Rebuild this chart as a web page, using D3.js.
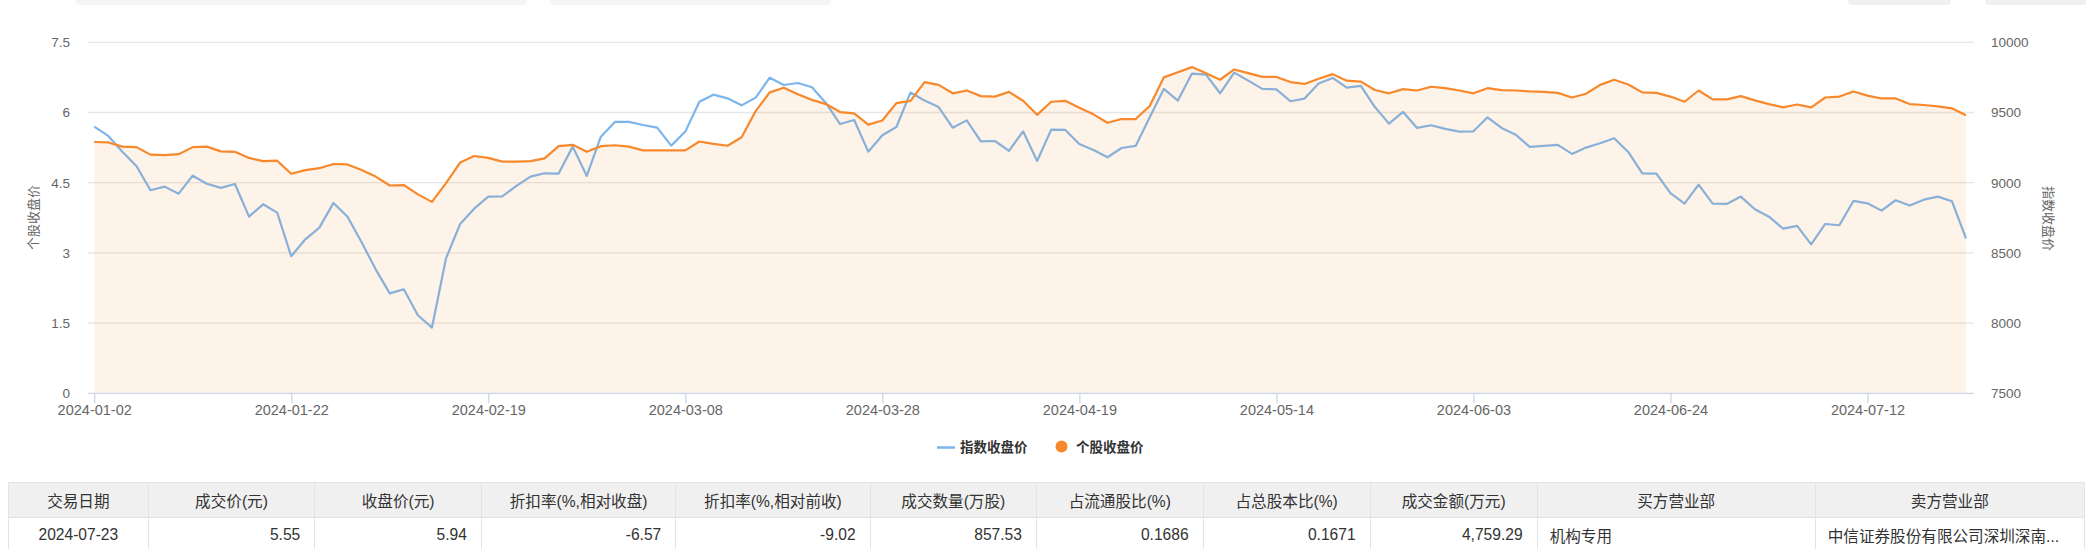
<!DOCTYPE html>
<html><head><meta charset="utf-8">
<script src="https://cdn.jsdelivr.net/npm/d3@7/dist/d3.min.js"></script>
<style>
html,body{margin:0;padding:0;background:#fff;overflow:hidden;}
#wrap{position:relative;width:2086px;height:549px;overflow:hidden;font-family:"Liberation Sans","Noto Sans CJK SC",sans-serif;}
svg{position:absolute;left:0;top:0;}
table{position:absolute;left:8px;top:482px;border-collapse:collapse;table-layout:fixed;font-size:15.6px;color:#333;}
th,td{border:1px solid #e3e3e3;height:35px;padding:0 14px;white-space:nowrap;overflow:hidden;box-sizing:border-box;}
th{background:#f0f0f0;font-weight:normal;text-align:center;}
</style></head>
<body><div id="wrap"><svg id="chart" width="2086" height="549"></svg></div>
<script>
// ---------------- data ----------------
const dates = [
"2024-01-02","2024-01-03","2024-01-04","2024-01-05","2024-01-08","2024-01-09","2024-01-10","2024-01-11","2024-01-12","2024-01-15",
"2024-01-16","2024-01-17","2024-01-18","2024-01-19","2024-01-22","2024-01-23","2024-01-24","2024-01-25","2024-01-26","2024-01-29",
"2024-01-30","2024-01-31","2024-02-01","2024-02-02","2024-02-05","2024-02-06","2024-02-07","2024-02-08","2024-02-19","2024-02-20",
"2024-02-21","2024-02-22","2024-02-23","2024-02-26","2024-02-27","2024-02-28","2024-02-29","2024-03-01","2024-03-04","2024-03-05",
"2024-03-06","2024-03-07","2024-03-08","2024-03-11","2024-03-12","2024-03-13","2024-03-14","2024-03-15","2024-03-18","2024-03-19",
"2024-03-20","2024-03-21","2024-03-22","2024-03-25","2024-03-26","2024-03-27","2024-03-28","2024-03-29","2024-04-01","2024-04-02",
"2024-04-03","2024-04-08","2024-04-09","2024-04-10","2024-04-11","2024-04-12","2024-04-15","2024-04-16","2024-04-17","2024-04-18",
"2024-04-19","2024-04-22","2024-04-23","2024-04-24","2024-04-25","2024-04-26","2024-04-29","2024-04-30","2024-05-06","2024-05-07",
"2024-05-08","2024-05-09","2024-05-10","2024-05-13","2024-05-14","2024-05-15","2024-05-16","2024-05-17","2024-05-20","2024-05-21",
"2024-05-22","2024-05-23","2024-05-24","2024-05-27","2024-05-28","2024-05-29","2024-05-30","2024-05-31","2024-06-03","2024-06-04",
"2024-06-05","2024-06-06","2024-06-07","2024-06-11","2024-06-12","2024-06-13","2024-06-14","2024-06-17","2024-06-18","2024-06-19",
"2024-06-20","2024-06-21","2024-06-24","2024-06-25","2024-06-26","2024-06-27","2024-06-28","2024-07-01","2024-07-02","2024-07-03",
"2024-07-04","2024-07-05","2024-07-08","2024-07-09","2024-07-10","2024-07-11","2024-07-12","2024-07-15","2024-07-16","2024-07-17",
"2024-07-18","2024-07-19","2024-07-22","2024-07-23"];

// 个股收盘价 (left axis)
const stockClose = [
5.37,5.36,5.27,5.26,5.10,5.09,5.11,5.26,5.27,5.17,
5.16,5.03,4.96,4.97,4.69,4.77,4.81,4.90,4.89,4.77,
4.63,4.44,4.45,4.25,4.09,4.49,4.93,5.07,5.03,4.95,
4.95,4.96,5.02,5.28,5.31,5.16,5.28,5.30,5.27,5.19,
5.19,5.19,5.19,5.38,5.33,5.29,5.47,6.03,6.43,6.53,
6.39,6.27,6.18,6.01,5.98,5.74,5.83,6.20,6.25,6.65,
6.59,6.41,6.47,6.35,6.34,6.44,6.25,5.95,6.23,6.25,
6.10,5.96,5.78,5.86,5.86,6.14,6.75,6.86,6.97,6.84,
6.70,6.92,6.84,6.76,6.76,6.65,6.61,6.72,6.82,6.68,
6.66,6.48,6.41,6.50,6.47,6.55,6.52,6.47,6.41,6.52,
6.48,6.47,6.45,6.44,6.42,6.32,6.40,6.59,6.70,6.60,
6.43,6.42,6.34,6.23,6.47,6.28,6.28,6.35,6.26,6.18,
6.11,6.17,6.11,6.32,6.34,6.45,6.36,6.30,6.30,6.18,
6.16,6.13,6.09,5.94];

// 指数收盘价 (right axis)
const indexClose = [
9399,9333,9221,9119,8946,8972,8922,9050,8993,8963,
8991,8758,8846,8787,8476,8597,8680,8856,8758,8576,
8383,8212,8241,8056,7968,8462,8706,8815,8901,8903,
8977,9043,9067,9065,9257,9048,9328,9433,9433,9411,
9392,9264,9364,9577,9627,9601,9551,9606,9748,9696,
9710,9680,9566,9418,9447,9221,9338,9397,9642,9585,
9539,9392,9444,9295,9297,9226,9366,9155,9378,9376,
9276,9233,9181,9247,9262,9466,9668,9585,9777,9770,
9637,9784,9727,9668,9665,9580,9599,9706,9746,9677,
9689,9539,9421,9504,9390,9409,9383,9364,9366,9466,
9390,9342,9255,9262,9269,9205,9250,9281,9316,9219,
9067,9065,8925,8851,8986,8851,8849,8901,8811,8758,
8673,8692,8561,8706,8697,8870,8853,8801,8875,8837,
8879,8901,8868,8604];

const xTickLabels = ["2024-01-02","2024-01-22","2024-02-19","2024-03-08","2024-03-28","2024-04-19","2024-05-14","2024-06-03","2024-06-24","2024-07-12"];
const leftTicks = [0, 1.5, 3, 4.5, 6, 7.5];
const leftTickLabels = ["0","1.5","3","4.5","6","7.5"];
const rightTicks = [7500, 8000, 8500, 9000, 9500, 10000];
const rightTickLabels = ["7500","8000","8500","9000","9500","10000"];
const leftTitle = "个股收盘价";
const rightTitle = "指数收盘价";
const seriesNames = ["指数收盘价", "个股收盘价"];

const tableHeaders = ["交易日期","成交价(元)","收盘价(元)","折扣率(%,相对收盘)","折扣率(%,相对前收)","成交数量(万股)","占流通股比(%)","占总股本比(%)","成交金额(万元)","买方营业部","卖方营业部"];
const tableRow = ["2024-07-23","5.55","5.94","-6.57","-9.02","857.53","0.1686","0.1671","4,759.29","机构专用","中信证券股份有限公司深圳深南..."];

// ---------------- drawing ----------------
const FONT = '"Liberation Sans","Noto Sans CJK SC",sans-serif';
const BLUE = "#7cb5ec", ORANGE = "#f7892c";
const svg = d3.select("#chart");
svg.append("rect").attr("width",2086).attr("height",549).attr("fill","#fff");

// top tab remnants
const tabs = [[76,527,"#f5f5f5"],[550,831,"#f5f5f5"],[1848,1951,"#f0f0f0"],[1985,2092,"#f0f0f0"]];
svg.append("g").selectAll("rect").data(tabs).join("rect")
  .attr("x",d=>d[0]).attr("y",-6).attr("width",d=>d[1]-d[0]).attr("height",11).attr("rx",4)
  .attr("fill",d=>d[2]);

const plotL = 88, plotR = 1974;
const x = d3.scalePoint().domain(dates).range([94.2, 1966]);
const yL = d3.scaleLinear().domain([0, 7.5]).range([393.3, 42.3]);
const yR = d3.scaleLinear().domain([7500, 10000]).range([393.3, 42.3]);

// grid
svg.append("g").selectAll("line").data(leftTicks.filter(d=>d>0)).join("line")
  .attr("x1",plotL).attr("x2",plotR)
  .attr("y1",d=>yL(d)).attr("y2",d=>yL(d))
  .attr("stroke","#e6e6e6").attr("stroke-width",1.3);

// index line (blue)
svg.append("path").datum(indexClose)
  .attr("d", d3.line().x((d,i)=>x(dates[i])).y(d=>yR(d)))
  .attr("fill","none").attr("stroke",BLUE).attr("stroke-width",2.2).attr("stroke-linejoin","round");

// stock area + line
svg.append("path").datum(stockClose)
  .attr("d", d3.area().x((d,i)=>x(dates[i])).y0(yL(0)).y1(d=>yL(d)))
  .attr("fill",ORANGE).attr("fill-opacity",0.1);
svg.append("path").datum(stockClose)
  .attr("d", d3.line().x((d,i)=>x(dates[i])).y(d=>yL(d)))
  .attr("fill","none").attr("stroke",ORANGE).attr("stroke-width",2.2).attr("stroke-linejoin","round");

// x axis
svg.append("line").attr("x1",plotL).attr("x2",plotR).attr("y1",yL(0)).attr("y2",yL(0))
  .attr("stroke","#ccd6eb").attr("stroke-width",1.3);
const gx = svg.append("g").attr("transform",`translate(0,${yL(0)})`)
  .call(d3.axisBottom(x).tickValues(xTickLabels).tickSize(10).tickPadding(1));
gx.select(".domain").remove();
gx.selectAll(".tick line").attr("stroke","#ccd6eb").attr("stroke-width",1.3);
gx.selectAll("text").attr("fill","#666").style("font-size","14.5px").style("font-family",FONT);

// left axis
const gl = svg.append("g").attr("transform",`translate(${plotL},0)`)
  .call(d3.axisLeft(yL).tickValues(leftTicks).tickSize(0).tickPadding(18).tickFormat((d,i)=>leftTickLabels[i]));
gl.select(".domain").remove();
gl.selectAll("text").attr("fill","#666").style("font-size","13.5px").style("font-family",FONT);

// right axis
const gr = svg.append("g").attr("transform",`translate(${plotR},0)`)
  .call(d3.axisRight(yR).tickValues(rightTicks).tickSize(0).tickPadding(17).tickFormat((d,i)=>rightTickLabels[i]));
gr.select(".domain").remove();
gr.selectAll("text").attr("fill","#666").style("font-size","13.5px").style("font-family",FONT);

// axis titles
svg.append("text").attr("transform","translate(33.5,217.5) rotate(-90)")
  .attr("text-anchor","middle").attr("dominant-baseline","central")
  .attr("fill","#666").style("font-size","13px").style("font-family",FONT).text(leftTitle);
svg.append("text").attr("transform","translate(2048.5,218.5) rotate(90)")
  .attr("text-anchor","middle").attr("dominant-baseline","central")
  .attr("fill","#666").style("font-size","13px").style("font-family",FONT).text(rightTitle);

// legend
const lg = svg.append("g").style("font-family",FONT).style("font-size","13.5px").style("font-weight","bold");
lg.append("line").attr("x1",937).attr("x2",955).attr("y1",447.5).attr("y2",447.5)
  .attr("stroke",BLUE).attr("stroke-width",2.5);
lg.append("text").attr("x",960).attr("y",452).attr("fill","#333").text(seriesNames[0]);
lg.append("circle").attr("cx",1061.5).attr("cy",446.5).attr("r",6).attr("fill",ORANGE);
lg.append("text").attr("x",1076).attr("y",452).attr("fill","#333").text(seriesNames[1]);

// table
const colW = [139.7,166.6,166.7,194.3,194.3,166.4,166.7,167,167,278.1,269.2];
const table = d3.select("#wrap").append("table").style("width", d3.sum(colW)+"px");
table.append("colgroup").selectAll("col").data(colW).join("col").style("width",d=>d+"px");
table.append("thead").append("tr").selectAll("th").data(tableHeaders).join("th").text(d=>d);
table.append("tbody").append("tr").selectAll("td").data(tableRow).join("td")
  .style("text-align",(d,i)=> i===0 ? "center" : (i>=9 ? "left" : "right"))
  .style("padding-left",(d,i)=> i>=9 ? "12px" : "14px")
  .text(d=>d);
</script></body></html>
